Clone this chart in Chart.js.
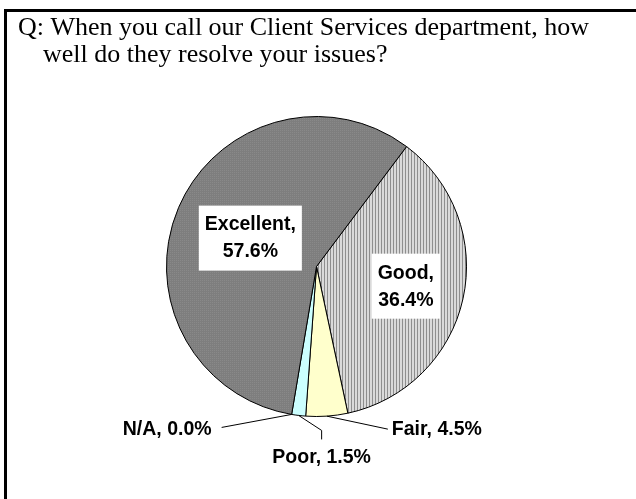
<!DOCTYPE html>
<html>
<head>
<meta charset="utf-8">
<script src="https://cdn.jsdelivr.net/npm/chart.js@4.4.0/dist/chart.umd.min.js"></script>
<style>
    html, body { margin: 0; padding: 0; background: #fff; }
</style>
</head>
<body>
<canvas id="pieClientServices" width="636" height="499"></canvas>
<script>
//Pie de satisfaccion con Client Services
'use strict';

var categories = ['Good', 'Fair', 'Poor', 'N/A', 'Excellent'];
var percents = [36.4, 4.5, 1.5, 0.0, 57.6];
var titleLines = ['Q: When you call our Client Services department, how', 'well do they resolve your issues?'];

// texturas de las rebanadas
function makePattern(w, h, paint) {
    var c = document.createElement('canvas');
    c.width = w;
    c.height = h;
    paint(c.getContext('2d'));
    return c.getContext('2d').createPattern(c, 'repeat');
}

var stripes = makePattern(3, 2, function (g) {
    g.fillStyle = '#dadada';
    g.fillRect(0, 0, 3, 2);
    g.fillStyle = '#8e8e8e';
    g.fillRect(0, 0, 1, 2);
});
var stipple = makePattern(2, 2, function (g) {
    g.fillStyle = '#7e7e7e';
    g.fillRect(0, 0, 2, 2);
    g.fillStyle = '#898989';
    g.fillRect(0, 0, 1, 1);
});

var sliceColors = [stripes, '#ffffcc', '#ccffff', '#ffffff', stipple];

// donde va cada etiqueta (fraccion del radio o lineas guia)
var insideLabels = { 'Good': 0.61, 'Excellent': 0.48 };
var outsideLabels = {
    'N/A':  { path: [[-70, 13]], text: [-80, 15], align: 'right' },
    'Poor': { path: [[23, 15], [23, 24]], text: [23, 42], align: 'center' },
    'Fair': { path: [[61, 13]], text: [65, 13], align: 'left' }
};

var LABEL_FONT = 'bold 19.5px "Liberation Sans", Arial, sans-serif';

var framePlugin = {
    id: 'framePlugin',
    beforeDraw: function (chart) {
        var ctx = chart.ctx;
        ctx.save();
        ctx.fillStyle = '#fff';
        ctx.fillRect(0, 0, chart.width, chart.height);
        ctx.fillStyle = '#000';
        ctx.fillRect(4, 9, chart.width - 4, 3);
        ctx.fillRect(4, 9, 3, chart.height - 9);

        ctx.font = '26px "Liberation Serif", "Times New Roman", serif';
        ctx.textBaseline = 'alphabetic';
        ctx.textAlign = 'left';
        ctx.fillText(titleLines[0], 18, 35);
        ctx.fillText(titleLines[1], 43, 62);
        ctx.restore();
    }
};

var labelPlugin = {
    id: 'labelPlugin',
    afterDatasetsDraw: function (chart) {
        var ctx = chart.ctx;
        var arcs = chart.getDatasetMeta(0).data;
        ctx.save();
        ctx.font = LABEL_FONT;
        ctx.textBaseline = 'middle';

        arcs.forEach(function (arc, i) {
            var name = categories[i];
            var text = name + ', ' + percents[i].toFixed(1) + '%';
            var mid = (arc.startAngle + arc.endAngle) / 2;
            var r = arc.outerRadius;

            if (insideLabels[name] !== undefined) {
                var f = insideLabels[name];
                var cx = arc.x + Math.cos(mid) * r * f;
                var cy = arc.y + Math.sin(mid) * r * f;
                var l1 = name + ',';
                var l2 = percents[i].toFixed(1) + '%';
                var w = Math.max(ctx.measureText(l1).width, ctx.measureText(l2).width) + 12;
                var h = 65;
                ctx.fillStyle = '#fff';
                ctx.fillRect(cx - w / 2, cy - h / 2, w, h);
                ctx.fillStyle = '#000';
                ctx.textAlign = 'center';
                ctx.fillText(l1, cx, cy - 13);
                ctx.fillText(l2, cx, cy + 14);
                return;
            }

            var spec = outsideLabels[name];
            if (!spec) return;
            var ex = arc.x + Math.cos(mid) * r;
            var ey = arc.y + Math.sin(mid) * r;
            ctx.strokeStyle = '#000';
            ctx.lineWidth = 1;
            ctx.beginPath();
            ctx.moveTo(ex, ey);
            spec.path.forEach(function (p) {
                ctx.lineTo(ex + p[0], ey + p[1]);
            });
            ctx.stroke();
            ctx.fillStyle = '#000';
            ctx.textAlign = spec.align;
            ctx.fillText(text, ex + spec.text[0], ey + spec.text[1]);
        });
        ctx.restore();
    }
};

var pieClientServices = new Chart(document.getElementById('pieClientServices'), {
    type: 'pie',
    data: {
        labels: categories,
        datasets: [
            {
                data: percents,
                backgroundColor: sliceColors,
                borderColor: '#000',
                borderWidth: 1,
                hoverOffset: 0,
                hoverBorderWidth: 1
            }
        ]
    },
    options: {
        responsive: false,
        animation: false,
        devicePixelRatio: 1,
        rotation: 36.9,
        layout: {
            padding: { left: 166, right: 169, top: 116, bottom: 82 }
        },
        plugins: {
            legend: { display: false },
            title: { display: false },
            tooltip: { enabled: false }
        }
    },
    plugins: [framePlugin, labelPlugin]
});
</script>
</body>
</html>
